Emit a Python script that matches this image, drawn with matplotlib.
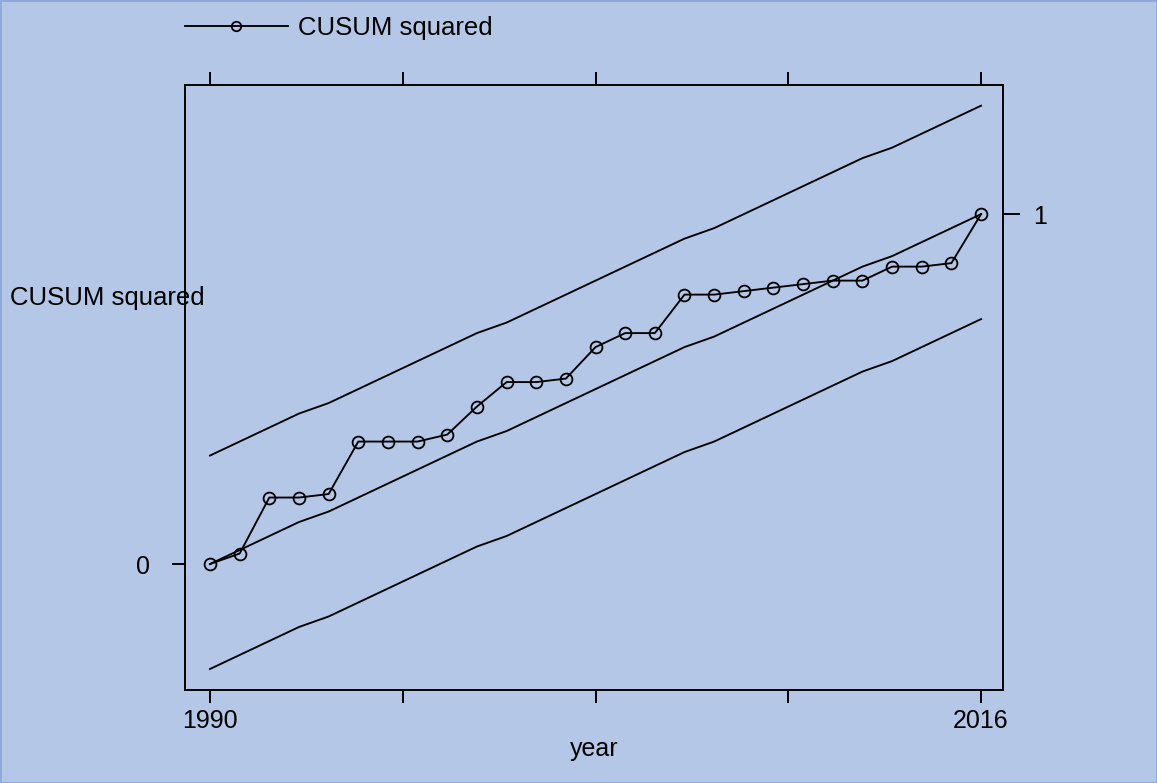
import matplotlib
matplotlib.use("Agg")
import matplotlib.pyplot as plt

plt.rcParams['font.family'] = ['Liberation Sans', 'DejaVu Sans']

years = list(range(1990, 2017))

# cusum of squares statistic
cusum_sq = [0.00, 0.03, 0.19, 0.19, 0.20, 0.35, 0.35, 0.35, 0.37, 0.45,
            0.52, 0.52, 0.53, 0.62, 0.66, 0.66, 0.77, 0.77, 0.78, 0.79,
            0.80, 0.81, 0.81, 0.85, 0.85, 0.86, 1.00]

# expected path and 5% bands
expected = [0.00, 0.04, 0.08, 0.12, 0.15, 0.19, 0.23, 0.27, 0.31, 0.35,
            0.38, 0.42, 0.46, 0.50, 0.54, 0.58, 0.62, 0.65, 0.69, 0.73,
            0.77, 0.81, 0.85, 0.88, 0.92, 0.96, 1.00]
upper = [0.31, 0.35, 0.39, 0.43, 0.46, 0.50, 0.54, 0.58, 0.62, 0.66,
         0.69, 0.73, 0.77, 0.81, 0.85, 0.89, 0.93, 0.96, 1.00, 1.04,
         1.08, 1.12, 1.16, 1.19, 1.23, 1.27, 1.31]
lower = [-0.30, -0.26, -0.22, -0.18, -0.15, -0.11, -0.07, -0.03, 0.01, 0.05,
         0.08, 0.12, 0.16, 0.20, 0.24, 0.28, 0.32, 0.35, 0.39, 0.43,
         0.47, 0.51, 0.55, 0.58, 0.62, 0.66, 0.70]

xticks = [1990, 1996.5, 2003, 2009.5, 2016]
xticklabels = ['1990', '', '', '', '2016']

bg = '#b4c7e7'
fig = plt.figure(figsize=(11.57, 7.83), dpi=100, facecolor=bg,
                 edgecolor='#8eaadb', linewidth=2)
ax = fig.add_axes([0.1599, 0.1188, 0.707, 0.7726], facecolor=bg)

lw = 1.35
ax.plot(years, upper, color='black', lw=lw)
ax.plot(years, expected, color='black', lw=lw)
ax.plot(years, lower, color='black', lw=lw)
ax.plot(years, cusum_sq, color='black', lw=lw, marker='o', ms=8.5,
        mfc='none', mec='black', mew=1.3, label='CUSUM squared')

ax.set_xlim(1989.157, 2016.74)
ax.set_ylim(-0.36, 1.369)

for s in ax.spines.values():
    s.set_linewidth(1.4)

ax.set_xticks(xticks)
ax.set_xticklabels(xticklabels)
ax.tick_params(axis='x', which='both', top=True, bottom=True, direction='out',
               length=9.5, width=1.4, labelsize=18, pad=4)
ax.set_yticks([0])
ax.set_yticklabels(['0'])
ax.tick_params(axis='y', left=True, right=False, direction='out',
               length=9.5, width=1.4, labelsize=18, pad=16)

ax2 = ax.twinx()
ax2.set_ylim(ax.get_ylim())
ax2.set_yticks([1])
ax2.set_yticklabels(['1'])
ax2.tick_params(axis='y', direction='out', length=12, width=1.4,
                labelsize=18, pad=10)
for s in ax2.spines.values():
    s.set_visible(False)

ax.set_xlabel('year', fontsize=18, labelpad=3)
fig.text(10 / 1157, 1 - 298 / 783, 'CUSUM squared', fontsize=18.5,
         ha='left', va='center')

fig.legend(loc='upper left', bbox_to_anchor=(185 / 1157, 1 - 16 / 783),
           frameon=False, fontsize=18.5, handlelength=4.0, handletextpad=0.4,
           borderpad=0, borderaxespad=0, markerscale=0.8)

fig.savefig('out.png', dpi=100, facecolor=bg, edgecolor='#8eaadb')
